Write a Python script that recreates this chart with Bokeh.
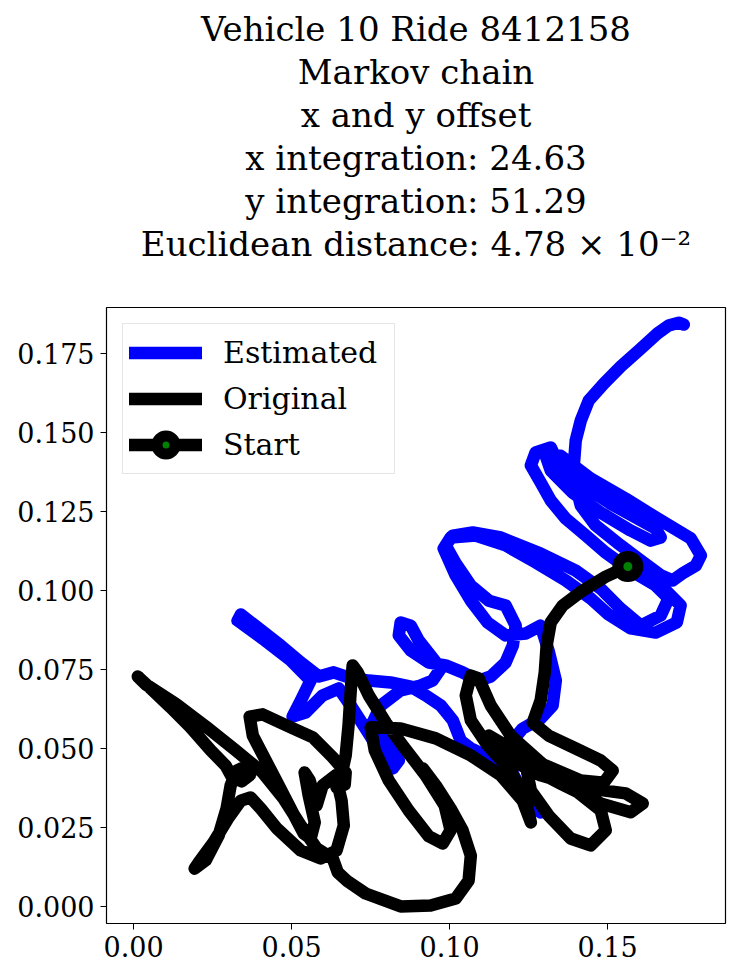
from bokeh.plotting import figure
from bokeh.models import Title, Range1d, FixedTicker, NumeralTickFormatter, Legend, LegendItem
from bokeh.embed import file_html
from bokeh.resources import INLINE

title_lines = [
    "Vehicle 10 Ride 8412158",
    "Markov chain",
    "x and y offset",
    "x integration: 24.63",
    "y integration: 51.29",
    "Euclidean distance: 4.78 \u00d7 10\u207b\u00b2",
]

x_ticks = [0.0, 0.05, 0.10, 0.15]
y_ticks = [0.0, 0.025, 0.05, 0.075, 0.10, 0.125, 0.15, 0.175]

start_x = [0.1564]
start_y = [0.1076]

orig_x = [
    0.1564, 0.1494, 0.1421, 0.1358, 0.1320, 0.1307, 0.1301, 0.1288, 0.1263,
    0.1313, 0.1399, 0.1478, 0.1516, 0.1488, 0.1415, 0.1304, 0.1193, 0.1124,
    0.1177, 0.1288, 0.1415, 0.1557, 0.1611, 0.1573, 0.1478, 0.1351, 0.1241,
    0.1257, 0.1313, 0.1383, 0.1446, 0.1494, 0.1478, 0.1399, 0.1288, 0.1193, 0.1130, 0.1092,
    0.1067, 0.1051, 0.1067, 0.1120, 0.1193, 0.1241, 0.1257,
    0.1231, 0.1162, 0.1067, 0.0956, 0.0845, 0.0750,
    0.0763, 0.0807, 0.0870, 0.0934, 0.0978, 0.1003, 0.0984, 0.0924, 0.0851, 0.0798, 0.0744, 0.0709, 0.0693,
    0.0687, 0.0680, 0.0671, 0.0655, 0.0642, 0.0668, 0.0671,
    0.0630, 0.0567, 0.0497, 0.0408, 0.0367, 0.0377, 0.0415, 0.0459, 0.0503, 0.0538, 0.0560, 0.0573,
    0.0554, 0.0541, 0.0557, 0.0579, 0.0598,
    0.0639, 0.0658, 0.0665, 0.0642, 0.0592, 0.0529, 0.0453, 0.0402, 0.0370,
    0.0339, 0.0301, 0.0253, 0.0206, 0.0193, 0.0228, 0.0269, 0.0294, 0.0307, 0.0326, 0.0354, 0.0367,
    0.0342, 0.0310, 0.0291, 0.0244, 0.0180, 0.0117, 0.0054, 0.0013, 0.0038, 0.0133, 0.0228, 0.0323,
    0.0408, 0.0472, 0.0529, 0.0579,
    0.0630, 0.0646, 0.0674, 0.0734, 0.0845, 0.0940, 0.1019, 0.1060, 0.1067, 0.1041, 0.1003, 0.0956, 0.0915,
]
orig_y = [
    0.1076, 0.1044, 0.1000, 0.0953, 0.0899, 0.0826, 0.0741, 0.0652, 0.0582,
    0.0541, 0.0500, 0.0462, 0.0430, 0.0392, 0.0399, 0.0446, 0.0500, 0.0541,
    0.0472, 0.0415, 0.0377, 0.0358, 0.0326, 0.0298, 0.0326, 0.0389, 0.0446,
    0.0367, 0.0288, 0.0215, 0.0193, 0.0241, 0.0304, 0.0367, 0.0456, 0.0541, 0.0636, 0.0722,
    0.0731, 0.0668, 0.0589, 0.0510, 0.0430, 0.0335, 0.0266,
    0.0335, 0.0415, 0.0478, 0.0532, 0.0563, 0.0567,
    0.0494, 0.0399, 0.0304, 0.0222, 0.0199, 0.0241, 0.0320, 0.0415, 0.0510, 0.0582, 0.0668, 0.0741, 0.0763,
    0.0684, 0.0573, 0.0478, 0.0405, 0.0377, 0.0386, 0.0424,
    0.0472, 0.0535, 0.0567, 0.0608, 0.0601, 0.0541, 0.0468, 0.0383, 0.0298, 0.0231, 0.0215, 0.0266,
    0.0351, 0.0424, 0.0399, 0.0320, 0.0383,
    0.0415, 0.0335, 0.0256, 0.0177, 0.0152, 0.0177, 0.0247, 0.0310, 0.0345,
    0.0335, 0.0282, 0.0203, 0.0139, 0.0120, 0.0146, 0.0225, 0.0310, 0.0383, 0.0430, 0.0443, 0.0415,
    0.0396, 0.0411, 0.0446, 0.0494, 0.0567, 0.0630, 0.0690, 0.0728, 0.0703, 0.0642, 0.0570, 0.0494,
    0.0424, 0.0345, 0.0256, 0.0184,
    0.0152, 0.0108, 0.0082, 0.0041, 0.0000, 0.0003, 0.0025, 0.0082, 0.0161, 0.0241, 0.0310, 0.0383, 0.0437,
]

est_x = [
    0.1564, 0.1620, 0.1684, 0.1731, 0.1719, 0.1652, 0.1573, 0.1503, 0.1446, 0.1367, 0.1272, 0.1177,
    0.1082, 0.1003, 0.0981, 0.1019, 0.1067, 0.1120, 0.1177, 0.1241,
    0.1288, 0.1313, 0.1336, 0.1326, 0.1288, 0.1231, 0.1187, 0.1187, 0.1219, 0.1266, 0.1288, 0.1257,
    0.1209, 0.1162, 0.1114, 0.1067, 0.1035, 0.1010, 0.0972, 0.0924, 0.0877,
    0.0813, 0.0744, 0.0680, 0.0633,
    0.0586, 0.0529, 0.0465, 0.0396, 0.0339, 0.0329, 0.0408, 0.0497, 0.0560, 0.0529, 0.0503, 0.0544,
    0.0598, 0.0649,
    0.0687, 0.0734, 0.0782, 0.0820, 0.0839, 0.0798, 0.0756, 0.0782, 0.0845, 0.0908, 0.0946, 0.0972,
    0.0940, 0.0902, 0.0877, 0.0845, 0.0839, 0.0877, 0.0934, 0.0987, 0.1041, 0.1092, 0.1130, 0.1177,
    0.1200, 0.1209, 0.1177,
    0.1124, 0.1067, 0.1019, 0.0987, 0.1010, 0.1073, 0.1162, 0.1288, 0.1399, 0.1478, 0.1541, 0.1605,
    0.1668, 0.1693, 0.1652, 0.1573,
    0.1494, 0.1431, 0.1367, 0.1320, 0.1288, 0.1257, 0.1272, 0.1320, 0.1339, 0.1399, 0.1510, 0.1605,
    0.1652, 0.1668, 0.1636, 0.1573, 0.1478, 0.1389, 0.1320, 0.1304, 0.1351, 0.1446, 0.1557, 0.1668,
    0.1763, 0.1795, 0.1779, 0.1741, 0.1706, 0.1668, 0.1605, 0.1541, 0.1462, 0.1415, 0.1399, 0.1393,
    0.1399, 0.1415, 0.1440, 0.1488, 0.1541, 0.1605, 0.1658, 0.1693, 0.1725, 0.1741,
]
est_y = [
    0.1076, 0.1038, 0.1000, 0.0953, 0.0899, 0.0867, 0.0880, 0.0924, 0.0975, 0.1032, 0.1089, 0.1143,
    0.1174, 0.1168, 0.1133, 0.1048, 0.0968, 0.0899, 0.0858, 0.0864,
    0.0889, 0.0810, 0.0715, 0.0636, 0.0595, 0.0563, 0.0510, 0.0446, 0.0383, 0.0329, 0.0298, 0.0320,
    0.0367, 0.0430, 0.0478, 0.0500, 0.0525, 0.0589, 0.0636, 0.0668, 0.0696,
    0.0709, 0.0715, 0.0725, 0.0741,
    0.0728, 0.0772, 0.0826, 0.0880, 0.0924, 0.0905, 0.0848, 0.0779, 0.0715, 0.0652, 0.0601, 0.0614,
    0.0668, 0.0690,
    0.0636, 0.0563, 0.0487, 0.0437, 0.0462, 0.0525, 0.0582, 0.0636, 0.0684, 0.0699, 0.0715, 0.0753,
    0.0794, 0.0842, 0.0889, 0.0899, 0.0858, 0.0810, 0.0772, 0.0763, 0.0741, 0.0715, 0.0728, 0.0772,
    0.0826, 0.0889, 0.0953,
    0.0968, 0.1016, 0.1086, 0.1143, 0.1174, 0.1184, 0.1168, 0.1117, 0.1063, 0.1006, 0.0943, 0.0889,
    0.0921, 0.0975, 0.1016, 0.1063,
    0.1120, 0.1174, 0.1228, 0.1285, 0.1342, 0.1396, 0.1437, 0.1453, 0.1412, 0.1348, 0.1275, 0.1222,
    0.1196, 0.1168, 0.1158, 0.1190, 0.1247, 0.1310, 0.1380, 0.1427, 0.1427, 0.1355, 0.1291, 0.1222,
    0.1165, 0.1111, 0.1079, 0.1057, 0.1032, 0.1048, 0.1095, 0.1143, 0.1206, 0.1269, 0.1332, 0.1396,
    0.1475, 0.1538, 0.1601, 0.1655, 0.1709, 0.1766, 0.1814, 0.1839, 0.1848, 0.1842,
]

SERIF = "DejaVu Serif"

p = figure(
    width=733, height=970,
    x_range=Range1d(-0.0086, 0.1873), y_range=Range1d(-0.0054, 0.1896),
    output_backend="svg", toolbar_location=None, title=None,
    min_border_left=106, min_border_right=8, min_border_top=307, min_border_bottom=47,
)
p.background_fill_color = "white"
p.border_fill_color = "white"
p.outline_line_color = "black"
p.outline_line_width = 1.2
p.xgrid.visible = False
p.ygrid.visible = False

for ax in (p.xaxis[0], p.yaxis[0]):
    ax.axis_line_color = None
    ax.major_tick_in = 0
    ax.major_tick_out = 6
    ax.major_tick_line_color = "black"
    ax.minor_tick_line_color = None
    ax.major_label_text_font = SERIF
    ax.major_label_text_font_size = "27px"
    ax.major_label_text_color = "black"
    ax.major_label_standoff = 6
p.xaxis.ticker = FixedTicker(ticks=x_ticks)
p.yaxis.ticker = FixedTicker(ticks=y_ticks)
p.xaxis.formatter = NumeralTickFormatter(format="0.00")
p.yaxis.formatter = NumeralTickFormatter(format="0.000")

# spacer between the title block and the plot frame
p.add_layout(Title(text=" ", align="center", text_font=SERIF, text_font_size="34px",
                   standoff=1, offset=0), "above")
for line in reversed(title_lines):
    t = Title(text=line, align="center", text_font=SERIF, text_font_size="34px",
              text_font_style="normal", text_color="black", standoff=1, offset=0)
    p.add_layout(t, "above")

est = p.line(est_x, est_y, line_color="blue", line_width=12.5, line_join="round", line_cap="round")
orig = p.line(orig_x, orig_y, line_color="black", line_width=12.5, line_join="round", line_cap="round")
start = p.scatter(start_x, start_y, marker="circle", size=20, fill_color="green",
                  line_color="black", line_width=11)

legend = Legend(
    items=[
        LegendItem(label="Estimated", renderers=[est]),
        LegendItem(label="Original", renderers=[orig]),
        LegendItem(label="Start", renderers=[orig, start]),
    ],
    location="top_left",
    label_text_font=SERIF, label_text_font_size="30px", label_text_color="black",
    glyph_width=73, glyph_height=45, label_height=45, label_width=165,
    label_standoff=21, spacing=1, padding=6, margin=16,
    border_line_color="#cccccc", border_line_width=1,
    background_fill_color="white", background_fill_alpha=0.8,
)
p.add_layout(legend)

open("out.html", "w").write(file_html(p, INLINE))
